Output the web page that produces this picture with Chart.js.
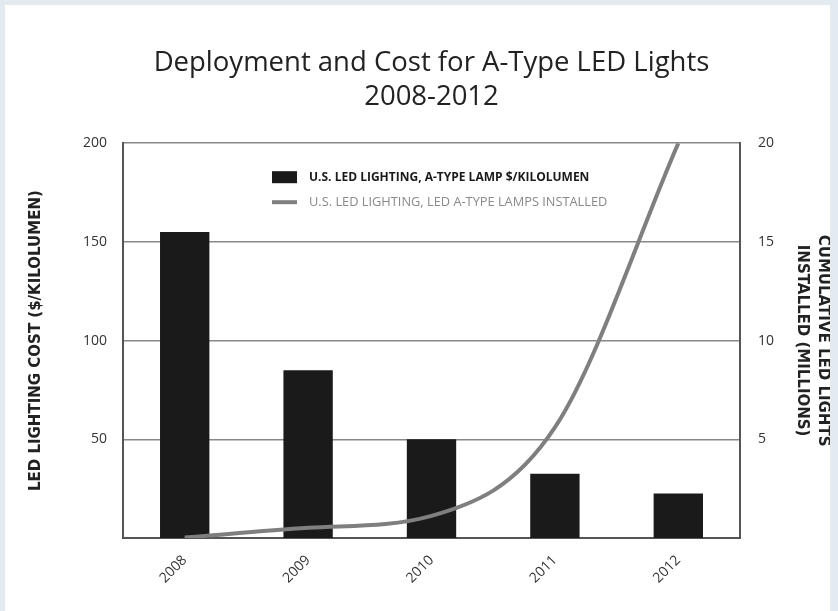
<!DOCTYPE html>
<html>
<head>
<meta charset="utf-8">
<script src="https://cdn.jsdelivr.net/npm/chart.js@4.4.1/dist/chart.umd.min.js"></script>
<style>
  html, body { margin: 0; padding: 0; background: #e3eaf0; }
  #wrap { position: absolute; left: 5px; top: 5px; width: 825px; height: 606px; background: #fff; }
</style>
</head>
<body>
<div id="wrap"><canvas id="myChart" width="825" height="606"></canvas></div>
<script>
'use strict';

const years = ['2008', '2009', '2010', '2011', '2012'];
const costPerKlm = [155, 85, 50, 32.5, 22.5];
const lampsInstalled = [0.02, 0.52, 1.12, 5.6, 20];
const costTicks = [50, 100, 150, 200];
const lampTicks = [5, 10, 15, 20];

const FONT = '"Open Sans", Lato, sans-serif';
const AXIS_FONT = '"DejaVu Sans", sans-serif';

// legend drawn inside the plot, under the top gridline
const insideLegend = {
  id: 'insideLegend',
  afterDraw(chart) {
    const { ctx, chartArea } = chart;
    const x = chartArea.left + 149;
    const y1 = chartArea.top + 34;
    const y2 = chartArea.top + 59;
    const ds = chart.data.datasets;
    ctx.save();
    ctx.textBaseline = 'middle';
    ctx.textAlign = 'left';

    ctx.fillStyle = '#1a1a1a';
    ctx.fillRect(x, y1 - 6, 25, 12);
    ctx.font = 'bold 12px ' + FONT;
    ctx.fillText(ds[0].label, x + 37, y1);

    ctx.strokeStyle = '#7f7f7f';
    ctx.lineWidth = 4;
    ctx.beginPath();
    ctx.moveTo(x, y2);
    ctx.lineTo(x + 25, y2);
    ctx.stroke();
    ctx.fillStyle = '#8a8a8a';
    ctx.font = '12.8px ' + FONT;
    ctx.fillText(ds[1].label, x + 37, y2);
    ctx.restore();
  },
};

drawChart();

function drawChart() {
  const ctx = document.getElementById('myChart');

  new Chart(ctx, {
    data: {
      labels: years,
      datasets: [
        {
          type: 'bar',
          label: 'U.S. LED LIGHTING, A-TYPE LAMP $/KILOLUMEN',
          data: costPerKlm,
          backgroundColor: '#1a1a1a',
          yAxisID: 'y',
          barPercentage: 0.4,
          categoryPercentage: 1.0,
          order: 2,
        },
        {
          type: 'line',
          label: 'U.S. LED LIGHTING, LED A-TYPE LAMPS INSTALLED',
          data: lampsInstalled,
          borderColor: '#7f7f7f',
          borderWidth: 4,
          pointRadius: 0,
          cubicInterpolationMode: 'monotone',
          yAxisID: 'y1',
          order: 1,
        },
      ],
    },
    plugins: [insideLegend],
    options: {
      responsive: false,
      animation: false,
      layout: { padding: 0 },
      plugins: {
        legend: { display: false },
        tooltip: { enabled: false },
        title: {
          display: true,
          fullSize: false,
          text: ['Deployment and Cost for A-Type LED Lights', '2008-2012'],
          color: '#222',
          font: { family: FONT, size: 27.5, weight: 'normal', lineHeight: 1.24 },
          padding: { top: 41, bottom: 29 },
        },
      },
      scales: {
        x: {
          afterFit(scale) { scale.height = 73; },
          grid: { display: false, drawTicks: false },
          border: { color: '#555', width: 2 },
          ticks: {
            color: '#333',
            font: { family: FONT, size: 14 },
            maxRotation: 45,
            minRotation: 45,
            padding: 14,
          },
        },
        y: {
          position: 'left',
          min: 0,
          max: 200,
          afterFit(scale) { scale.width = 118; },
          afterBuildTicks(scale) { scale.ticks = costTicks.map((v) => ({ value: v })); },
          grid: { color: '#888', lineWidth: 1.5, drawTicks: false },
          border: { color: '#555', width: 2 },
          ticks: {
            color: '#333',
            font: { family: FONT, size: 14 },
            padding: 16,
          },
          title: {
            display: true,
            text: 'LED LIGHTING COST ($/KILOLUMEN)',
            color: '#222',
            font: { family: AXIS_FONT, size: 15, weight: 'bold', lineHeight: 1.2 },
            padding: { top: 22, bottom: 0 },
          },
        },
        y1: {
          position: 'right',
          min: 0,
          max: 20,
          afterFit(scale) { scale.width = 90; },
          afterBuildTicks(scale) { scale.ticks = lampTicks.map((v) => ({ value: v })); },
          grid: { display: false, drawTicks: false },
          border: { color: '#555', width: 2 },
          ticks: {
            color: '#333',
            font: { family: FONT, size: 14 },
            padding: 18,
          },
          title: {
            display: true,
            text: ['CUMULATIVE LED LIGHTS', 'INSTALLED (MILLIONS)'],
            color: '#222',
            font: { family: AXIS_FONT, size: 15, weight: 'bold', lineHeight: 1.4 },
            padding: { top: -3, bottom: 0 },
          },
        },
      },
    },
  });
}
</script>
</body>
</html>
